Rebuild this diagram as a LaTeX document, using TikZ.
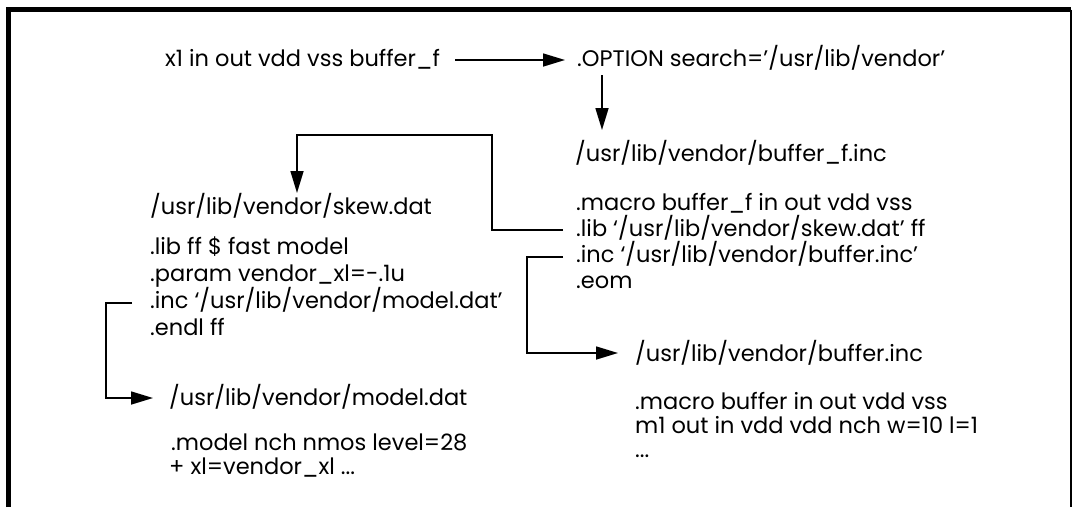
\documentclass[tikz,border=0pt]{standalone}
\usepackage{fontspec}
\setmainfont{Poppins}
\usetikzlibrary{arrows.meta}
\tikzset{
  code/.style={anchor=base west, inner sep=0pt, font=\fontsize{22.5}{27}\selectfont},
  link/.style={line width=1.6pt},
  flow/.style={line width=1.6pt, -{Triangle[length=22pt,width=13pt]}},
}
\begin{document}
\begin{tikzpicture}[x=1pt,y=-1pt]
        \useasboundingbox (0,0) rectangle (1073,507);
        \fill[white] (0,0) rectangle (1073,507);

        % Marco
        \draw[line width=5pt] (8.5,507) -- (8.5,9.5) -- (1071,9.5);
        \draw[line width=2pt] (1071,9.5) -- (1071,507);

        % Llamada y opcion
        \node[code] (call) at (165,66) {x1 in out vdd vss buffer\_f};
        \node[code] (opt) at (577,66) {.OPTION search='/usr/lib/vendor'};

        % buffer_f.inc
        \node[code] (bfinc) at (575,161) {/usr/lib/vendor/buffer\_f.inc};
        \node[code] (bmac) at (576,210) {.macro buffer\_f in out vdd vss};
        \node[code] (blib) at (576,236) {.lib `/usr/lib/vendor/skew.dat' ff};
        \node[code] (blinc) at (576,262) {.inc `/usr/lib/vendor/buffer.inc'};
        \node[code] (beom) at (576,288) {.eom};

        % skew.dat
        \node[code] (skew) at (150,214) {/usr/lib/vendor/skew.dat};
        \node[code] (slib) at (150,254) {.lib ff \$ fast model};
        \node[code] (spar) at (150,281) {.param vendor\_xl=-.1u};
        \node[code] (sinc) at (150,308) {.inc `/usr/lib/vendor/model.dat'};
        \node[code] (send) at (150,335) {.endl ff};

        % model.dat
        \node[code] (mdat) at (169,405) {/usr/lib/vendor/model.dat};
        \node[code] (mmod) at (171,450) {.model nch nmos level=28};
        \node[code] (mxl) at (169,474) {+ xl=vendor\_xl ...};

        % buffer.inc
        \node[code] (binc) at (635,361) {/usr/lib/vendor/buffer.inc};
        \node[code] (bbmac) at (635,409) {.macro buffer in out vdd vss};
        \node[code] (bm1) at (635,433) {m1 out in vdd vdd nch w=10 l=1};
        \node[code] (bdots) at (635,457) {...};

        % Esquinas de las flechas
        \coordinate (skewturn) at (492,135);
        \coordinate (bufturn) at (527,353);
        \coordinate (modturn) at (106,398);

        % Flechas
        \draw[flow] ([xshift=15pt,yshift=6pt]call.base east) -- ([xshift=-12pt,yshift=6pt]opt.base west);
        \draw[flow] ([xshift=25pt,yshift=-9pt]opt.base west) -- ([xshift=27pt,yshift=31pt]bfinc.base west);
        \draw[flow] ([xshift=-13pt,yshift=6pt]blib.base west) -| (skewturn) -| ([xshift=147pt,yshift=21pt]skew.base west);
        \draw[flow] ([xshift=-13pt,yshift=5pt]blinc.base west) -| (bufturn) -- ([xshift=-17pt,yshift=8pt]binc.base west);
        \draw[flow] ([xshift=-18pt,yshift=5pt]sinc.base west) -| (modturn) -- ([xshift=-16pt,yshift=7pt]mdat.base west);
\end{tikzpicture}
\end{document}
